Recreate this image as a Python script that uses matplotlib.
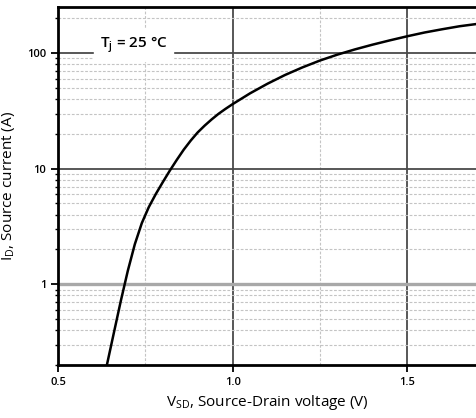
import numpy as np
import matplotlib.pyplot as plt
from matplotlib.ticker import LogLocator, FixedLocator, NullFormatter

# Source-drain diode forward characteristic, Tj = 25 degC
v_sd = [0.64, 0.66, 0.68, 0.70, 0.72, 0.74, 0.76, 0.78, 0.80, 0.82,
        0.84, 0.86, 0.88, 0.90, 0.92, 0.94, 0.96, 0.98, 1.00, 1.05,
        1.10, 1.15, 1.20, 1.25, 1.30, 1.35, 1.40, 1.45, 1.50, 1.55,
        1.60, 1.65, 1.70]
i_s = [0.20, 0.38, 0.72, 1.31, 2.22, 3.38, 4.65, 6.03, 7.64, 9.6,
       11.9, 14.6, 17.5, 20.6, 23.6, 26.7, 29.9, 33.0, 36.2, 44.9,
       54.4, 64.7, 75.3, 86.3, 97.1, 107.7, 118.3, 129.0, 140.0, 151.0,
       161.0, 171.0, 179.0]

x_ticks = [0.5, 1.0, 1.5]
x_tick_labels = ['0.5', '1.0', '1.5']
y_ticks = [1, 10, 100]
y_tick_labels = ['1', '10', '100']

plt.rcParams['font.family'] = ['Open Sans', 'DejaVu Sans']

fig = plt.figure(figsize=(4.77, 4.18), dpi=100)
ax = fig.add_axes([0.1216, 0.1268, 0.8784, 0.856])

ax.set_yscale('log')
ax.set_xlim(0.5, 1.7)
ax.set_ylim(0.2, 250)

# grid: solid decades / half volts, dotted minor lines
ax.set_xticks(x_ticks)
ax.set_xticklabels(x_tick_labels)
ax.xaxis.set_minor_locator(FixedLocator([0.75, 1.25]))
ax.set_yticks(y_ticks)
ax.set_yticklabels(y_tick_labels)
ax.yaxis.set_minor_locator(LogLocator(base=10, subs=np.arange(2, 10)))
ax.yaxis.set_minor_formatter(NullFormatter())

ax.grid(which='major', color='#4a4a4a', linewidth=1.3)
ax.grid(which='minor', color='#c4c4c4', linewidth=0.8, linestyle=(0, (2.5, 1.5)))
ax.set_axisbelow(True)

# the 1 A line is drawn wider and lighter
for val, line in zip(y_ticks, ax.get_ygridlines()):
    if val == 1:
        line.set_color('#a8a8a8')
        line.set_linewidth(2.4)

ax.tick_params(which='major', direction='out', length=5, width=1.3, labelsize=8)
ax.tick_params(which='minor', direction='out', length=2.5, width=1.0)
ax.tick_params(axis='x', which='minor', length=0)
for lbl in ax.get_xticklabels() + ax.get_yticklabels():
    lbl.set_fontweight('semibold')

for side in ['left', 'bottom', 'top']:
    ax.spines[side].set_linewidth(2.0)
ax.spines['right'].set_visible(False)

ax.plot(v_sd, i_s, color='black', linewidth=1.8, zorder=3)

ax.text(0.62, 118, r'T$_{\mathregular{j}}$ = 25 °C', fontsize=11, fontweight='semibold',
        backgroundcolor='white', va='center', ha='left', zorder=4)

ax.set_xlabel(r'V$_{\mathregular{SD}}$, Source-Drain voltage (V)', fontsize=11)
ax.set_ylabel(r'I$_{\mathregular{D}}$, Source current (A)', fontsize=11)
ax.xaxis.labelpad = 4
ax.yaxis.labelpad = 7

fig.savefig('out.png', dpi=100)
